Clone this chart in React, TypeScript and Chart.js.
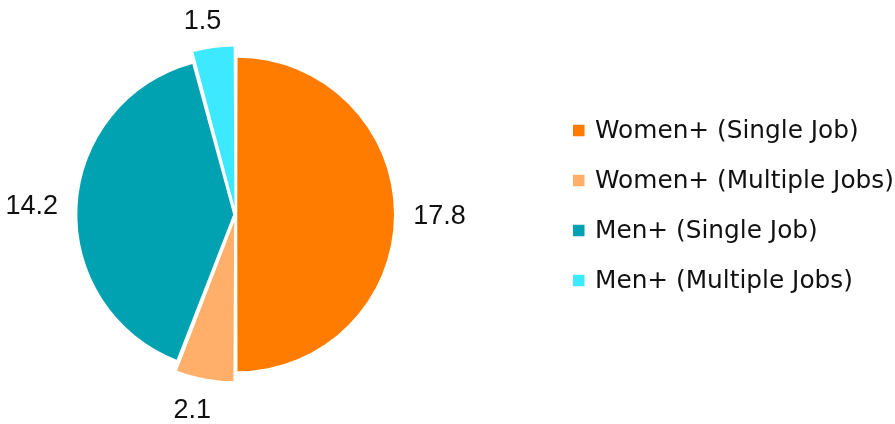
import React, { useEffect, useRef } from "react";
import { Chart, registerables } from "chart.js";

Chart.register(...registerables);

const categories = [
  "Women+ (Single Job)",
  "Women+ (Multiple Jobs)",
  "Men+ (Single Job)",
  "Men+ (Multiple Jobs)",
];
const values = [17.8, 2.1, 14.2, 1.5];
const valueLabels = ["17.8", "2.1", "14.2", "1.5"];
const sliceColors = ["#FF7C00", "#FFAF6A", "#00A1B1", "#3CE9FF"];
const explosion = [7, 29, 9, 30];

const LABEL_SIZE = 27;
const LABEL_FONT = `${LABEL_SIZE}px "Liberation Sans", Arial, sans-serif`;
const LEGEND_FONT = '24.8px "DejaVu Sans", sans-serif';

const outsideLabels = {
  id: "outsideLabels",
  afterDatasetsDraw(chart: any) {
    const ctx = chart.ctx;
    const meta = chart.getDatasetMeta(0);
    ctx.save();
    ctx.font = LABEL_FONT;
    ctx.fillStyle = "#111";
    ctx.textAlign = "center";
    ctx.textBaseline = "alphabetic";
    meta.data.forEach((arc: any, i: number) => {
      const p = arc.getProps(["x", "y", "startAngle", "endAngle", "outerRadius"], true);
      const mid = (p.startAngle + p.endAngle) / 2;
      const d = p.outerRadius + 42;
      const cx = Math.cos(mid);
      const lx = p.x + cx * d + Math.sign(cx) * 7;
      const ly = p.y + Math.sin(mid) * d;
      ctx.fillText(valueLabels[i], lx, ly + LABEL_SIZE * 0.358);
    });
    ctx.restore();
  },
};

const sideLegend = {
  id: "sideLegend",
  afterDraw(chart: any) {
    const ctx = chart.ctx;
    const labels = chart.data.labels as string[];
    const ds = chart.data.datasets[0];
    ctx.save();
    ctx.font = LEGEND_FONT;
    ctx.textAlign = "left";
    ctx.textBaseline = "alphabetic";
    const x0 = 573;
    const y0 = 130.5;
    const step = 50;
    labels.forEach((lab, i) => {
      const cy = y0 + i * step;
      ctx.fillStyle = ds.backgroundColor[i];
      ctx.fillRect(x0, cy - 5.75, 11.5, 11.5);
      ctx.fillStyle = "#111";
      ctx.fillText(lab, x0 + 22, cy + 7.5);
    });
    ctx.restore();
  },
};

export default function App() {
  const ref = useRef<HTMLCanvasElement | null>(null);
  useEffect(() => {
    if (!ref.current) return;
    const chart = new Chart(ref.current, {
      type: "pie",
      data: {
        labels: categories,
        datasets: [
          {
            data: values,
            backgroundColor: sliceColors,
            borderWidth: 0,
            offset: explosion,
          } as any,
        ],
      },
      options: {
        responsive: false,
        animation: false,
        devicePixelRatio: 1,
        radius: 155,
        layout: { padding: { left: 0, right: 424, top: 5, bottom: 0 } },
        plugins: {
          legend: { display: false },
          tooltip: { enabled: false },
        },
      } as any,
      plugins: [outsideLabels, sideLegend],
    });
    return () => chart.destroy();
  }, []);
  return (
    <div style={{ position: "fixed", left: 0, top: 0, width: 895, height: 424, background: "#fff" }}>
      <canvas ref={ref} width={895} height={424} style={{ display: "block" }} />
    </div>
  );
}
